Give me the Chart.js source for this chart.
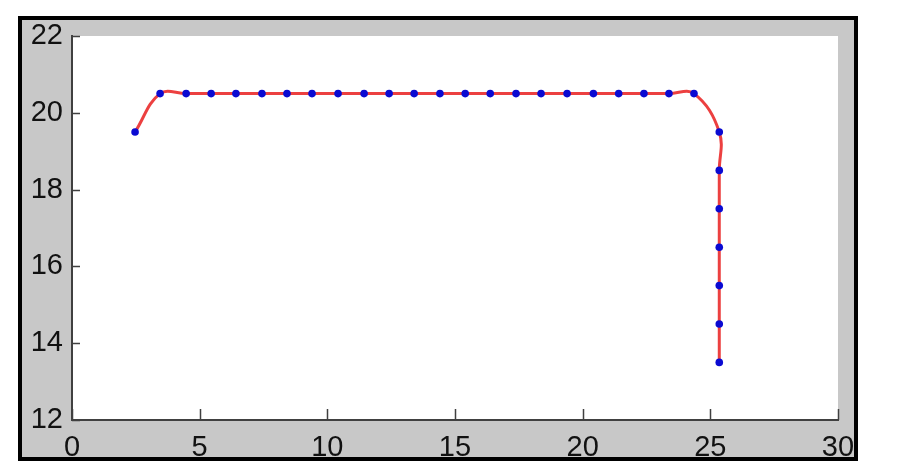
<!DOCTYPE html>
<html>
<head>
<meta charset="utf-8">
<script src="https://cdn.jsdelivr.net/npm/chart.js@4/dist/chart.umd.min.js"></script>
<style>
  html, body { margin: 0; padding: 0; background: #fff; width: 902px; height: 461px; overflow: hidden; }
  #frame {
    position: absolute; left: 18px; top: 16px;
    width: 840px; height: 445px;
    border: 4px solid #000; box-sizing: border-box;
    background: #c8c8c8;
  }
  #plot { display: block; background: #c8c8c8; }
</style>
</head>
<body>
<div id="frame"><canvas id="plot" width="832" height="437"></canvas></div>
<script>
// path: flat run at 20.5, then straight down at x ~25.35
const pathX = [2.47, 3.45, 4.47, 5.45, 6.42, 7.44, 8.42, 9.4, 10.42, 11.44, 12.42, 13.4,
  14.41, 15.4, 16.38, 17.39, 18.37, 19.39, 20.42, 21.41, 22.4, 23.38, 24.36,
  25.35, 25.35, 25.35, 25.35, 25.35, 25.35, 25.35];
const pathY = [19.5, 20.5, 20.5, 20.5, 20.5, 20.5, 20.5, 20.5, 20.5, 20.5, 20.5, 20.5,
  20.5, 20.5, 20.5, 20.5, 20.5, 20.5, 20.5, 20.5, 20.5, 20.5, 20.5,
  19.5, 18.5, 17.5, 16.5, 15.5, 14.5, 13.5];
const xTicks = [0, 5, 10, 15, 20, 25, 30];
const yTicks = [12, 14, 16, 18, 20, 22];

const points = pathX.map((x, i) => ({ x: x, y: pathY[i] }));

// white axes box + matlab style inward ticks
const axesBox = {
  id: "axesBox",
  beforeDraw(chart) {
    const { ctx, chartArea: a } = chart;
    ctx.save();
    ctx.fillStyle = "#fff";
    ctx.fillRect(a.left, a.top, a.right - a.left, a.bottom - a.top);
    ctx.restore();
  },
  afterDraw(chart) {
    const { ctx, chartArea: a, scales } = chart;
    ctx.save();
    ctx.strokeStyle = "#404040";
    ctx.lineWidth = 1.5;
    ctx.beginPath();
    xTicks.forEach((v) => {
      const px = Math.round(scales.x.getPixelForValue(v)) + 0.5;
      ctx.moveTo(px, a.bottom);
      ctx.lineTo(px, a.bottom - 11);
    });
    yTicks.forEach((v) => {
      const py = Math.round(scales.y.getPixelForValue(v)) + 0.5;
      ctx.moveTo(a.left, py);
      ctx.lineTo(a.left + 8, py);
    });
    ctx.stroke();
    ctx.restore();
  },
};

const tickFont = { family: "'Liberation Sans', Arial, sans-serif", size: 29, lineHeight: 1 };

new Chart(document.getElementById("plot").getContext("2d"), {
  type: "scatter",
  data: {
    datasets: [
      {
        data: points,
        showLine: true,
        borderColor: "#ec4040",
        borderWidth: 3,
        tension: 0.4,
        pointRadius: 3.8,
        pointBackgroundColor: "#0a0ad2",
        pointBorderColor: "#0a0ad2",
        pointBorderWidth: 0,
      },
    ],
  },
  options: {
    responsive: false,
    animation: false,
    layout: { padding: { top: 16, right: 16, left: 0, bottom: 0 } },
    plugins: { legend: { display: false }, tooltip: { enabled: false } },
    scales: {
      x: {
        type: "linear",
        min: 0,
        max: 30,
        grid: { display: false, drawTicks: false },
        border: { display: true, color: "#404040", width: 2 },
        ticks: { stepSize: 5, color: "#111", font: tickFont, padding: 13, maxRotation: 0 },
        afterFit(scale) {
          scale.height = 37;
          scale.paddingLeft = 0;
          scale.paddingRight = 0;
        },
      },
      y: {
        type: "linear",
        min: 12,
        max: 22,
        grid: { display: false, drawTicks: false },
        border: { display: true, color: "#404040", width: 2 },
        ticks: { stepSize: 2, color: "#111", font: tickFont, padding: 9 },
        afterFit(scale) {
          scale.width = 50;
          scale.paddingTop = 0;
          scale.paddingBottom = 0;
        },
      },
    },
  },
  plugins: [axesBox],
});
</script>
</body>
</html>
